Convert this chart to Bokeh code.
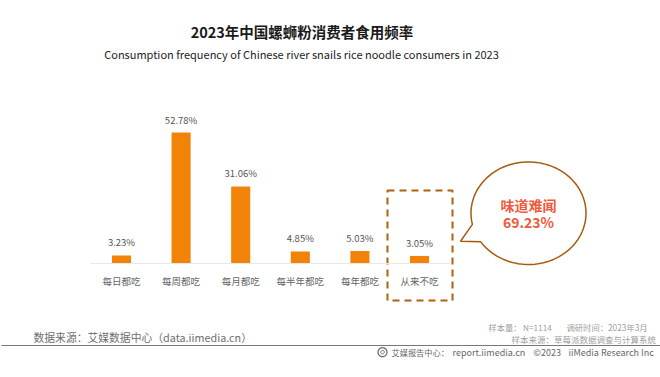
import numpy as np
from bokeh.plotting import figure
from bokeh.models import Range1d, ColumnDataSource, FixedTicker
from bokeh.core.properties import value
from bokeh.embed import file_html
from bokeh.resources import INLINE

categories = ["每日都吃", "每周都吃", "每月都吃", "每半年都吃", "每年都吃", "从来不吃"]
shares = [3.23, 52.78, 31.06, 4.85, 5.03, 3.05]
share_labels = ["3.23%", "52.78%", "31.06%", "4.85%", "5.03%", "3.05%"]

FONT = "Noto Sans CJK SC"
W, H = 660, 377
X0, DX = 121.0, 59.6     # page px of first category, px per category
Y0, DY = 263.0, 2.48     # page px of baseline, px per percent

positions = list(range(len(categories)))
p = figure(width=W, height=H,
           x_range=Range1d((0 - X0) / DX, (W - X0) / DX),
           y_range=Range1d((Y0 - H) / DY, Y0 / DY),
           output_backend="svg", toolbar_location=None,
           min_border_left=0, min_border_right=0, min_border_top=0, min_border_bottom=0,
           outline_line_color=None, background_fill_color="white", border_fill_color="white")
p.extra_x_ranges = {"page": Range1d(0, W)}
p.extra_y_ranges = {"page": Range1d(H, 0)}
p.grid.visible = False
p.yaxis.visible = False
ax = p.xaxis[0]
ax.fixed_location = 0
ax.bounds = (-0.52, 5.52)
ax.ticker = FixedTicker(ticks=positions)
ax.major_label_overrides = {i: c for i, c in zip(positions, categories)}
ax.axis_line_color = "#e8e8e8"
ax.axis_line_width = 1
ax.major_tick_line_color = None
ax.minor_tick_line_color = None
ax.major_label_text_font = FONT
ax.major_label_text_font_size = "9.5px"
ax.major_label_text_color = "#666666"
ax.major_label_standoff = 4

src = ColumnDataSource(dict(c=positions, v=shares, t=share_labels))
p.vbar(x="c", top="v", width=0.32, bottom=0, source=src, fill_color="#f08308", line_color=None)
p.text(x="c", y="v", text="t", source=src, text_align="center", text_baseline="bottom", y_offset=-6,
       text_font=value(FONT), text_font_size="9.5px", text_color="#555555")

def label(text, x, y, size, color, align="left", weight="normal", font=FONT):
    p.text(x=[x], y=[y], text=[text], x_range_name="page", y_range_name="page",
           text_font=value(font), text_font_size=f"{size}px", text_color=color,
           text_align=align, text_baseline="middle", text_font_style=weight)

def poly(xs, ys, fill=None, line="#a85a10", width=1.5, dash="solid"):
    p.patch(x=list(xs), y=list(ys), x_range_name="page", y_range_name="page",
            fill_color=fill, fill_alpha=1 if fill else 0, line_color=line,
            line_width=width, line_dash=dash)

label("2023年中国螺蛳粉消费者食用频率", 301.5, 31, 14.5, "#1a1a1a", "center", "bold")
label("Consumption frequency of Chinese river snails rice noodle consumers in 2023", 301, 53, 11, "#222222", "center")

# dashed highlight box
poly([387, 452, 452, 387], [190, 190, 300, 300], line="#b0600f", width=2, dash="7 5")

# speech bubble
a0 = np.arctan2(225 - 212.7, 473 - 528)
a1 = np.arctan2(243 - 212.7, 483 - 528)
t = np.linspace(a1, a1 - (2 * np.pi - (a0 - a1)), 120)
bx = np.r_[528 + 57.5 * np.cos(t), 460]
by = np.r_[212.7 + 51.3 * np.sin(t), 240.7]
poly(bx, by, fill="white", line="#a85a10", width=1.5)
label("味道难闻", 528, 204, 14, "#ef5a3c", "center", "bold")
label("69.23%", 528, 221, 14, "#ef5a3c", "center", "bold")

# footer
label("数据来源\uff1a艾媒数据中心\uff08data.iimedia.cn\uff09", 33, 336, 10.8, "#6e6e6e")
label("样本量\uff1a N=1114", 488, 326, 8.2, "#a0a0a0")
label("调研时间\uff1a2023年3月", 566, 326, 8.3, "#a0a0a0")
label("样本来源\uff1a草莓派数据调查与计算系统", 511, 338, 8.5, "#a0a0a0")
p.line(x=[1, 660], y=[345, 345], x_range_name="page", y_range_name="page", line_color="#777777", line_width=1)
label("艾媒报告中心\uff1a", 391, 351.5, 8.2, "#666666")
label("report.iimedia.cn", 452, 351.5, 9, "#666666")
label("©2023", 533, 351.5, 9, "#666666")
label("iiMedia Research  Inc", 568, 351.5, 9, "#666666")
th = np.linspace(0, 2 * np.pi, 40)
poly(382 + 4.5 * np.cos(th), 351.7 + 4.5 * np.sin(th), line="#666666", width=1.2)
poly(382 + 1.8 * np.cos(th), 351.7 + 1.8 * np.sin(th), line="#666666", width=1)

open("out.html", "w").write(file_html(p, INLINE))
